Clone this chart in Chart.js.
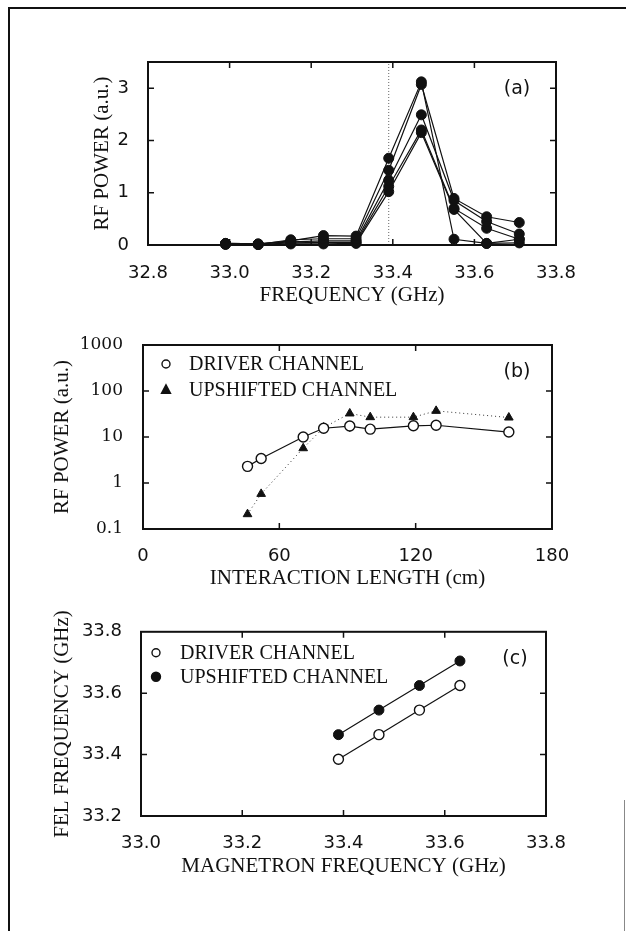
<!DOCTYPE html>
<html><head><meta charset="utf-8">
<script src="https://cdn.jsdelivr.net/npm/chart.js@4.4.1/dist/chart.umd.min.js"></script>
<style>
html,body{margin:0;padding:0;background:#fff;}
#page{position:relative;width:626px;height:931px;overflow:hidden;background:#fff;}
canvas{position:absolute;left:0;}
.bt{position:absolute;left:8px;top:7px;width:618px;height:2px;background:#111;}
.bl{position:absolute;left:8px;top:7px;width:2px;height:924px;background:#111;}
.br{position:absolute;left:624px;top:800px;width:1px;height:131px;background:#888;}
</style></head><body>
<div id="page">
<div class="bt"></div><div class="bl"></div><div class="br"></div>
<canvas id="ca" width="626" height="320" style="top:0px"></canvas>
<canvas id="cb" width="626" height="290" style="top:320px"></canvas>
<canvas id="cc" width="626" height="280" style="top:610px"></canvas>
</div>
<script>
// ---------- Panel (a): RF power vs frequency ----------
const freqA = [32.99, 33.07, 33.15, 33.23, 33.31, 33.39, 33.47, 33.55, 33.63, 33.71];
const powerA1 = [0.03, 0.02, 0.08, 0.18, 0.17, 1.66, 3.12, 0.11, 0.03, 0.11];
const powerA2 = [0.02, 0.01, 0.10, 0.12, 0.12, 1.43, 3.07, 0.89, 0.54, 0.43];
const powerA3 = [0.03, 0.02, 0.06, 0.08, 0.08, 1.24, 2.49, 0.85, 0.45, 0.21];
const powerA4 = [0.01, 0.01, 0.04, 0.05, 0.05, 1.12, 2.20, 0.70, 0.32, 0.11];
const powerA5 = [0.02, 0.01, 0.02, 0.02, 0.03, 1.02, 2.15, 0.68, 0.03, 0.04];
const markerFreqA = 33.39;
const xTicksA = [32.8, 33.0, 33.2, 33.4, 33.6, 33.8];
const yTicksA = [0, 1, 2, 3];

// ---------- Panel (b): RF power vs interaction length ----------
const lengthB = [46, 52, 70.5, 79.5, 91, 100, 119, 129, 161];
const driverB = [2.3, 3.4, 10, 15.5, 17.3, 14.8, 17.5, 18, 12.8];
const upshiftB = [0.21, 0.58, 5.7, 16, 32.5, 27, 27, 37, 26.5];
const driverErrLoB = [null, null, null, 12, 13, null, null, 14, null];
const driverErrHiB = [null, null, null, 20, 22, null, null, 22, null];
const xTicksB = [0, 60, 120, 180];
const yTicksB = [0.1, 1, 10, 100, 1000];
const yTickLabelsB = ['0.1', '1', '10', '100', '1000'];

// ---------- Panel (c): FEL frequency vs magnetron frequency ----------
const magC = [33.39, 33.47, 33.55, 33.63];
const driverC = [33.385, 33.465, 33.545, 33.625];
const upshiftC = [33.465, 33.545, 33.625, 33.705];
const xTicksC = [33.0, 33.2, 33.4, 33.6, 33.8];
const yTicksC = [33.2, 33.4, 33.6, 33.8];

const INK = '#111';
const SANS = '"DejaVu Sans", sans-serif';
const SERIF = '"Liberation Serif", serif';
const TITLE_SIZE = 21;

function pts(xs, ys) { return xs.map((x, i) => ({x: x, y: ys[i]})); }

function drawMarker(ctx, style, filled, x, y, r) {
  ctx.save();
  ctx.beginPath();
  if (style === 'triangle') {
    ctx.moveTo(x, y - r * 1.15);
    ctx.lineTo(x + r, y + r * 0.75);
    ctx.lineTo(x - r, y + r * 0.75);
    ctx.closePath();
  } else {
    ctx.arc(x, y, r, 0, Math.PI * 2);
  }
  ctx.fillStyle = filled ? INK : '#fff';
  ctx.strokeStyle = INK;
  ctx.lineWidth = 1.4;
  ctx.fill();
  ctx.stroke();
  ctx.restore();
}

const framePlugin = {
  id: 'frame',
  beforeDatasetsDraw(chart, args, opts) {
    const {ctx, scales} = chart;
    if (!opts.err) return;
    ctx.save();
    ctx.strokeStyle = INK; ctx.lineWidth = 1.3;
    opts.err.x.forEach((xv, i) => {
      const lo = opts.err.lo[i], hi = opts.err.hi[i];
      if (lo == null) return;
      const px = scales.x.getPixelForValue(xv);
      ctx.beginPath();
      ctx.moveTo(px, scales.y.getPixelForValue(lo));
      ctx.lineTo(px, scales.y.getPixelForValue(hi));
      ctx.stroke();
    });
    ctx.restore();
  },
  afterDraw(chart, args, opts) {
    const {ctx, chartArea: a, scales} = chart;
    ctx.save();
    ctx.strokeStyle = INK; ctx.lineWidth = 2;
    ctx.strokeRect(a.left, a.top, a.right - a.left, a.bottom - a.top);
    ctx.lineWidth = 1.5;
    const L = 6;
    scales.x.ticks.forEach(t => {
      const p = scales.x.getPixelForValue(t.value);
      if (p <= a.left + 2 || p >= a.right - 2) return;
      ctx.beginPath();
      ctx.moveTo(p, a.bottom); ctx.lineTo(p, a.bottom - L);
      ctx.moveTo(p, a.top); ctx.lineTo(p, a.top + L);
      ctx.stroke();
    });
    scales.y.ticks.forEach(t => {
      const p = scales.y.getPixelForValue(t.value);
      if (p <= a.top + 2 || p >= a.bottom - 2) return;
      ctx.beginPath();
      ctx.moveTo(a.left, p); ctx.lineTo(a.left + L, p);
      ctx.moveTo(a.right, p); ctx.lineTo(a.right - L, p);
      ctx.stroke();
    });
    // panel label
    ctx.font = '19px ' + SANS; ctx.fillStyle = INK;
    ctx.textAlign = 'center'; ctx.textBaseline = 'middle';
    ctx.fillText(opts.label, a.right - opts.dx, a.top + opts.dy);
    // legend
    if (opts.legend) {
      ctx.font = '20px ' + SERIF; ctx.textAlign = 'left';
      opts.legend.forEach(it => {
        drawMarker(ctx, it.style, it.filled, a.left + opts.mx, a.top + it.dy, it.r);
        ctx.fillStyle = INK;
        ctx.fillText(it.text, a.left + opts.tx, a.top + it.dy + 1);
      });
    }
    ctx.restore();
  }
};

function fixedTicks(arr) { return s => { s.ticks = arr.map(v => ({value: v})); }; }

function makeScales(cfg) {
  return {
    x: {
      type: 'linear', min: cfg.xmin, max: cfg.xmax,
      afterBuildTicks: fixedTicks(cfg.xTicks),
      afterFit: s => { s.height = cfg.xh; },
      grid: {display: false}, border: {display: false},
      ticks: {font: {family: SANS, size: 18}, color: INK, padding: cfg.xtp, maxRotation: 0, autoSkip: false,
              callback: cfg.xcb},
      title: {display: true, text: cfg.xTitle, font: {family: SERIF, size: TITLE_SIZE}, color: INK,
              padding: {top: 0, bottom: cfg.xtitlePad}}
    },
    y: {
      type: cfg.ytype || 'linear', min: cfg.ymin, max: cfg.ymax,
      afterBuildTicks: fixedTicks(cfg.yTicks),
      afterFit: s => { s.width = cfg.yw; },
      grid: {display: false}, border: {display: false},
      ticks: {font: {family: cfg.yfont || SANS, size: cfg.yfs || 18}, color: INK, padding: cfg.ytp, autoSkip: false,
              callback: cfg.ycb},
      title: {display: true, text: cfg.yTitle, font: {family: SERIF, size: TITLE_SIZE}, color: INK,
              padding: {top: cfg.ytitlePad, bottom: 0}}
    }
  };
}

const common = {
  responsive: false, animation: false, devicePixelRatio: 1,
  events: []
};

// ---- Chart A ----
const seriesA = [powerA1, powerA2, powerA3, powerA4, powerA5];
const dsA = seriesA.map(s => ({
  data: pts(freqA, s), borderColor: INK, backgroundColor: INK, borderWidth: 1.2,
  pointRadius: 5, pointBorderWidth: 1, pointBackgroundColor: INK, pointBorderColor: INK,
  tension: 0, clip: false
}));
dsA.push({
  data: [{x: markerFreqA, y: 0}, {x: markerFreqA, y: 3.5}],
  borderColor: '#666', borderWidth: 1, borderDash: [1, 2], pointRadius: 0, tension: 0
});
new Chart(document.getElementById('ca'), {
  type: 'line',
  data: {datasets: dsA},
  options: Object.assign({}, common, {
    layout: {padding: {left: 80, right: 70, top: 62, bottom: 0}},
    plugins: {legend: {display: false}, tooltip: {enabled: false},
              frame: {label: '(a)', dx: 39, dy: 27}},
    scales: makeScales({
      xmin: 32.8, xmax: 33.8, xTicks: xTicksA, xh: 75, xtp: 9.2, xtitlePad: 12.4,
      xcb: v => Number(v).toFixed(1), xTitle: 'FREQUENCY (GHz)',
      ymin: 0, ymax: 3.5, yTicks: yTicksA, yw: 68, ytp: 11, ytitlePad: 9.4,
      ycb: v => String(v), yTitle: 'RF POWER (a.u.)'
    })
  }),
  plugins: [framePlugin]
});

// ---- Chart B ----
new Chart(document.getElementById('cb'), {
  type: 'line',
  data: {datasets: [
    {data: pts(lengthB, driverB), borderColor: INK, borderWidth: 1.2, tension: 0, clip: false,
     pointStyle: 'circle', pointRadius: 5, pointBorderWidth: 1.4, pointBackgroundColor: '#fff', pointBorderColor: INK},
    {data: pts(lengthB, upshiftB), borderColor: '#333', borderWidth: 1, borderDash: [1, 3], tension: 0, clip: false,
     pointStyle: 'triangle', pointRadius: 5, pointBorderWidth: 1, pointBackgroundColor: INK, pointBorderColor: INK}
  ]},
  options: Object.assign({}, common, {
    layout: {padding: {left: 40, right: 74, top: 25, bottom: 0}},
    plugins: {legend: {display: false}, tooltip: {enabled: false},
              frame: {label: '(b)', dx: 35, dy: 27, mx: 23, tx: 46,
                      err: {x: lengthB, lo: driverErrLoB, hi: driverErrHiB},
                      legend: [
                        {text: 'DRIVER CHANNEL', style: 'circle', filled: false, r: 4, dy: 19},
                        {text: 'UPSHIFTED CHANNEL', style: 'triangle', filled: true, r: 4.5, dy: 45}
                      ]}},
    scales: makeScales({
      xmin: 0, xmax: 180, xTicks: xTicksB, xh: 81, xtp: 8.2, xtitlePad: 19.4,
      xcb: v => String(v), xTitle: 'INTERACTION LENGTH (cm)',
      ytype: 'logarithmic', ymin: 0.1, ymax: 1000, yTicks: yTicksB, yw: 103, ytp: 12, ytitlePad: 9.4,
      yfont: '"DejaVu Serif", serif', yfs: 17,
      ycb: (v, i) => yTickLabelsB[i], yTitle: 'RF POWER (a.u.)'
    })
  }),
  plugins: [framePlugin]
});

// ---- Chart C ----
new Chart(document.getElementById('cc'), {
  type: 'line',
  data: {datasets: [
    {data: pts(magC, driverC), borderColor: INK, borderWidth: 1.2, tension: 0, clip: false,
     pointRadius: 5, pointBorderWidth: 1.4, pointBackgroundColor: '#fff', pointBorderColor: INK},
    {data: pts(magC, upshiftC), borderColor: INK, borderWidth: 1.2, tension: 0, clip: false,
     pointRadius: 5, pointBorderWidth: 1, pointBackgroundColor: INK, pointBorderColor: INK}
  ]},
  options: Object.assign({}, common, {
    layout: {padding: {left: 40, right: 80, top: 20, bottom: 0}},
    plugins: {legend: {display: false}, tooltip: {enabled: false},
              frame: {label: '(c)', dx: 31, dy: 27, mx: 15, tx: 39,
                      legend: [
                        {text: 'DRIVER CHANNEL', style: 'circle', filled: false, r: 4, dy: 21},
                        {text: 'UPSHIFTED CHANNEL', style: 'circle', filled: true, r: 4.5, dy: 45}
                      ]}},
    scales: makeScales({
      xmin: 33.0, xmax: 33.8, xTicks: xTicksC, xh: 74, xtp: 8.2, xtitlePad: 11.4,
      xcb: v => Number(v).toFixed(1), xTitle: 'MAGNETRON FREQUENCY (GHz)',
      ymin: 33.2, ymax: 33.8, yTicks: yTicksC, yw: 101, ytp: 11, ytitlePad: 9.4,
      ycb: v => Number(v).toFixed(1), yTitle: 'FEL FREQUENCY (GHz)'
    })
  }),
  plugins: [framePlugin]
});
</script>
</body></html>
